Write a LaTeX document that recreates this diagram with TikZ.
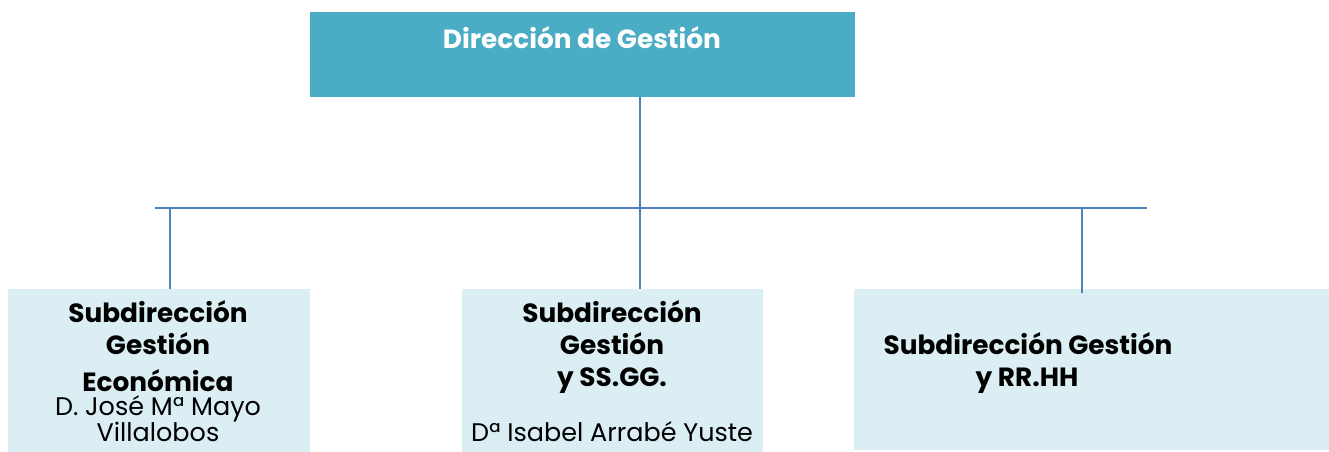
\documentclass[tikz,border=0pt]{standalone}
\usepackage{fontspec}
\setmainfont{Poppins}
\definecolor{headfill}{HTML}{4BACC6}
\definecolor{subfill}{HTML}{DAEEF3}
\definecolor{linkblue}{HTML}{4F81BD}
\tikzset{
  headbox/.style={fill=headfill,minimum width=10.9cm,minimum height=1.7cm,inner sep=0pt},
  subbox/.style={fill=subfill,minimum width=6.04cm,minimum height=3.26cm,inner sep=0pt},
  bold/.style={font=\fontsize{15}{17}\selectfont\bfseries,inner sep=0pt},
  plain/.style={font=\fontsize{14.5}{17}\selectfont,inner sep=0pt},
  link/.style={draw=linkblue,line width=1.15pt}
}

\begin{document}
\begin{tikzpicture}[x=0.02cm,y=-0.02cm]
\useasboundingbox (0,0) rectangle (1329,452);
% boxes
\node[headbox] (dir) at (582.5,54.5) {};
\node[subbox] (eco) at (159,370.5) {};
\node[subbox] (ssgg) at (612.5,370.5) {};
\node[subbox,minimum width=9.5cm,minimum height=3.22cm] (rrhh) at (1091.5,369.5) {};

% texts
\node[bold,text=white] (dirt) at (582,38) {Dirección de Gestión};

\node[bold] (eco1) at (158,312) {Subdirección};
\node[bold] (eco2) at (158,344) {Gestión};
\node[bold] (eco3) at (158,381) {Económica};
\node[plain] (eco4) at (158,409) {D. José Mª Mayo};
\node[plain] (eco5) at (158,432) {Villalobos};

\node[bold] (ssgg1) at (612,312) {Subdirección};
\node[bold] (ssgg2) at (612,344) {Gestión};
\node[bold] (ssgg3) at (612,381) {y SS.GG.};
\node[plain] (ssgg4) at (612,432) {Dª Isabel Arrabé Yuste};

\node[bold] (rrhh1) at (1028,344) {Subdirección Gestión};
\node[bold] (rrhh2) at (1027,381) {y RR.HH};

% connectors
\coordinate (busl) at (155,208);
\coordinate (busr) at (1147,208);
\coordinate (jmid) at (640,208);
\coordinate (jl) at (170,208);
\coordinate (jr) at (1082,208);
\draw[link] (busl) -- (busr);
\draw[link] (dir.south -| jmid) -- (ssgg.north -| jmid);
\draw[link] (jl) -- (eco.north -| jl);
\draw[link] (jr) -- ([yshift=-0.08cm]rrhh.north -| jr);

\end{tikzpicture}
\end{document}
